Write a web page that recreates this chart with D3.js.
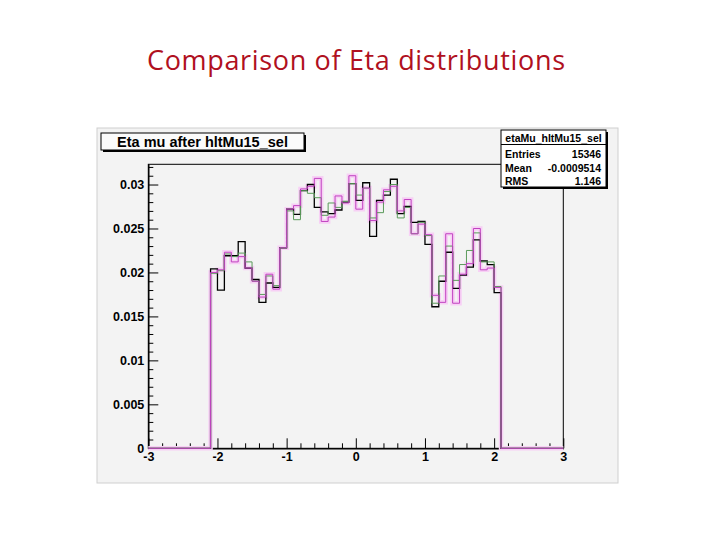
<!DOCTYPE html>
<html><head><meta charset="utf-8">
<script src="https://cdn.jsdelivr.net/npm/d3@7"></script>
<style>body{margin:0;background:#fff}svg{display:block}</style>
</head><body>
<svg id="c" width="720" height="540"></svg>
<script>
const chartTitle = "Comparison of Eta distributions";
const histTitle = "Eta mu after hltMu15_sel";
const statsName = "etaMu_hltMu15_sel";
const statsLabels = ["Entries", "Mean", "RMS"];
const statsValues = ["15346", "-0.0009514", "1.146"];

const xDomain = [-3, 3];
const binWidth = 0.1;
const binLowEdges = [-2.1,-2.0,-1.9,-1.8,-1.7,-1.6,-1.5,-1.4,-1.3,-1.2,-1.1,-1.0,-0.9,-0.8,-0.7,-0.6,-0.5,-0.4,-0.3,-0.2,-0.1,
  0.0,0.1,0.2,0.3,0.4,0.5,0.6,0.7,0.8,0.9,1.0,1.1,1.2,1.3,1.4,1.5,1.6,1.7,1.8,1.9,2.0];
const blackVals = [0.0204,0.0180,0.0219,0.0219,0.0235,0.0205,0.0192,0.0166,0.0188,0.0183,0.0228,
  0.0272,0.0266,0.0293,0.0300,0.0274,0.0269,0.0267,0.0271,0.0280,0.0301,
  0.0282,0.0302,0.0241,0.0282,0.0288,0.0306,0.0267,0.0275,0.0257,0.0258,
  0.0232,0.0161,0.0190,0.0223,0.0182,0.0197,0.0206,0.0237,0.0213,0.0209,0.0177];
const greenVals = [0.0199,0.0202,0.0221,0.0218,0.0222,0.0212,0.0190,0.0175,0.0196,0.0185,0.0228,
  0.0270,0.0260,0.0293,0.0290,0.0285,0.0265,0.0279,0.0274,0.0281,0.0301,
  0.0288,0.0296,0.0262,0.0268,0.0292,0.0300,0.0262,0.0274,0.0244,0.0257,
  0.0242,0.0165,0.0196,0.0230,0.0191,0.0209,0.0225,0.0245,0.0212,0.0212,0.0184];
const pinkVals = [0.0200,0.0203,0.0223,0.0212,0.0218,0.0205,0.0190,0.0172,0.0198,0.0181,0.0228,
  0.0272,0.0276,0.0295,0.0298,0.0307,0.0258,0.0263,0.0287,0.0279,0.0310,
  0.0272,0.0296,0.0259,0.0280,0.0294,0.0298,0.0270,0.0283,0.0244,0.0255,
  0.0243,0.0174,0.0166,0.0244,0.0165,0.0198,0.0210,0.0250,0.0203,0.0205,0.0183];

const xTickValues = [-3,-2,-1,0,1,2,3];
const xTickLabels = ["-3","-2","-1","0","1","2","3"];
const yTickValues = [0,0.005,0.01,0.015,0.02,0.025,0.03];
const yTickLabels = ["0","0.005","0.01","0.015","0.02","0.025","0.03"];
const yMax = 0.0323;

const svg = d3.select("#c");

// slide title
svg.append("text").attr("x", 356).attr("y", 70).attr("text-anchor", "middle")
  .attr("textLength", 418).attr("lengthAdjust", "spacing")
  .style("font-family", "'Open Sans', sans-serif").style("font-size", "27px")
  .attr("fill", "#b01020").text(chartTitle);

// ROOT canvas
svg.append("rect").attr("x", 97).attr("y", 128).attr("width", 521).attr("height", 355)
  .attr("fill", "#f3f3f3").attr("stroke", "#cfcfcf");

const x = d3.scaleLinear().domain(xDomain).range([148.3, 563.3]);
const y = d3.scaleLinear().domain([0, yMax]).range([448.3, 164.3]);

// frame
svg.append("rect").attr("x", x(xDomain[0])).attr("y", y(yMax))
  .attr("width", x(xDomain[1]) - x(xDomain[0])).attr("height", y(0) - y(yMax))
  .attr("fill", "none").attr("stroke", "#000").attr("stroke-width", 1);

const font = "'Liberation Sans', Arial, sans-serif";

// axes
const yMinor = d3.range(0, yMax, 0.001).filter(v => !yTickValues.some(t => Math.abs(t - v) < 1e-9));
const gYm = svg.append("g").attr("transform", `translate(${x(xDomain[0])},0)`)
  .call(d3.axisLeft(y).tickValues(yMinor).tickSize(-5).tickSizeOuter(0).tickFormat(""));
const gY = svg.append("g").attr("transform", `translate(${x(xDomain[0])},0)`)
  .call(d3.axisLeft(y).tickValues(yTickValues).tickSize(-10).tickSizeOuter(0).tickPadding(4)
    .tickFormat((d, i) => yTickLabels[i]));
const xMinor = d3.range(-3, 3.0001, 0.2).filter(v => !xTickValues.some(t => Math.abs(t - v) < 1e-9));
const gXm = svg.append("g").attr("transform", `translate(0,${y(0)})`)
  .call(d3.axisBottom(x).tickValues(xMinor).tickSize(-5).tickSizeOuter(0).tickFormat(""));
const gX = svg.append("g").attr("transform", `translate(0,${y(0)})`)
  .call(d3.axisBottom(x).tickValues(xTickValues).tickSize(-10).tickSizeOuter(0).tickPadding(4)
    .tickFormat((d, i) => xTickLabels[i]));
[gY, gYm, gX, gXm].forEach(g => {
  g.selectAll("path,line").attr("stroke", "#000").attr("stroke-width", 1);
  g.selectAll("text").style("font-family", font).style("font-size", "12.5px")
    .style("font-weight", "bold").attr("fill", "#000");
});

// histograms
function histPoints(vals) {
  const pts = [[xDomain[0], 0]];
  vals.forEach((v, i) => pts.push([binLowEdges[i], v]));
  pts.push([binLowEdges[binLowEdges.length - 1] + binWidth, 0]);
  pts.push([xDomain[1], 0]);
  return pts;
}
const line = d3.line().x(d => x(d[0])).y(d => y(d[1])).curve(d3.curveStepAfter);
const gH = svg.append("g");
gH.append("path").attr("d", line(histPoints(pinkVals))).attr("fill", "none")
  .attr("stroke", "#f7d0f5").attr("stroke-width", 4.5);
gH.append("path").attr("d", line(histPoints(blackVals))).attr("fill", "none")
  .attr("stroke", "#000").attr("stroke-width", 1.3);
gH.append("path").attr("d", line(histPoints(greenVals))).attr("fill", "none")
  .attr("stroke", "#5a9a5a").attr("stroke-width", 1);
gH.append("path").attr("d", line(histPoints(pinkVals))).attr("fill", "none")
  .attr("stroke", "#c040c0").attr("stroke-width", 1);

// title box
svg.append("rect").attr("x", 103).attr("y", 135).attr("width", 203).attr("height", 17).attr("fill", "#000");
svg.append("rect").attr("x", 101).attr("y", 133).attr("width", 203).attr("height", 17)
  .attr("fill", "#fbfbfb").attr("stroke", "#000").attr("stroke-width", 1);
svg.append("text").attr("x", 202.5).attr("y", 146.5).attr("text-anchor", "middle")
  .style("font-family", font).style("font-size", "14.5px").style("font-weight", "bold")
  .text(histTitle);

// stats box
const sb = {x: 501, y: 130, w: 105, h: 57};
svg.append("rect").attr("x", sb.x + 2).attr("y", sb.y + 2).attr("width", sb.w).attr("height", sb.h).attr("fill", "#000");
svg.append("rect").attr("x", sb.x).attr("y", sb.y).attr("width", sb.w).attr("height", sb.h)
  .attr("fill", "#fff").attr("stroke", "#000").attr("stroke-width", 1);
svg.append("line").attr("x1", sb.x).attr("x2", sb.x + sb.w).attr("y1", 144.5).attr("y2", 144.5)
  .attr("stroke", "#000");
svg.append("text").attr("x", sb.x + sb.w / 2).attr("y", 141.5).attr("text-anchor", "middle")
  .style("font-family", font).style("font-size", "10.5px").style("font-weight", "bold").text(statsName);
const rowY = [158, 171.5, 185];
statsLabels.forEach((lab, i) => {
  svg.append("text").attr("x", sb.x + 4).attr("y", rowY[i])
    .style("font-family", font).style("font-size", "10.5px").style("font-weight", "bold").text(lab);
  svg.append("text").attr("x", sb.x + sb.w - 5).attr("y", rowY[i]).attr("text-anchor", "end")
    .style("font-family", font).style("font-size", "10.5px").style("font-weight", "bold").text(statsValues[i]);
});
</script>
</body></html>
